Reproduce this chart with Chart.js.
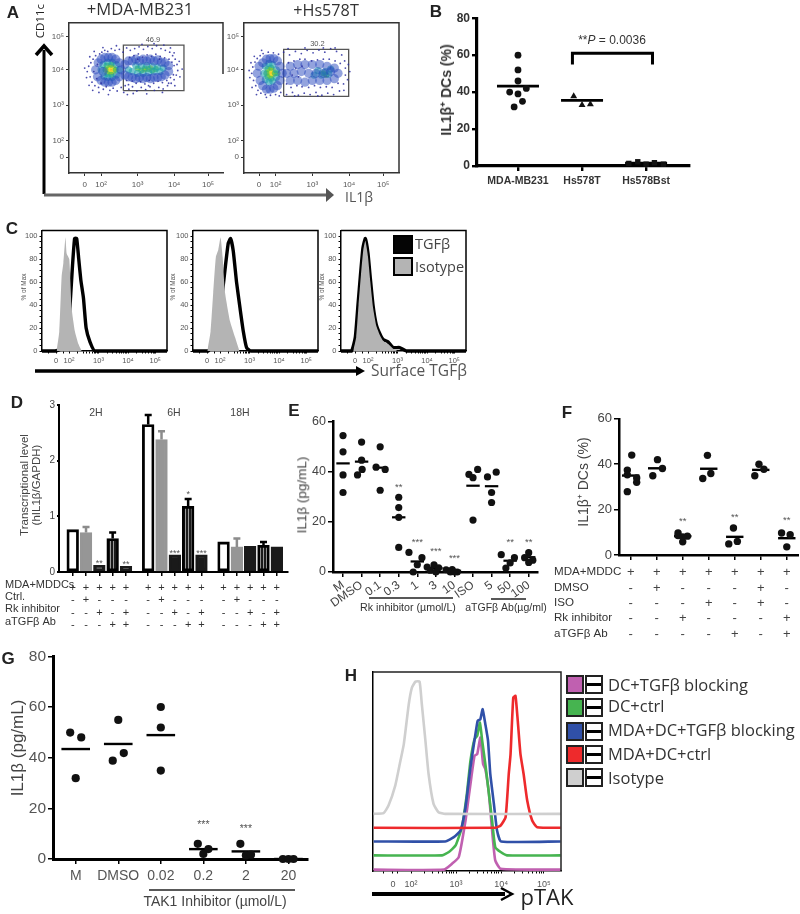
<!DOCTYPE html>
<html>
<head>
<meta charset="utf-8">
<title>Figure panels</title>
<script src="https://cdn.jsdelivr.net/npm/chart.js@4"></script>
<style>
  html, body { margin: 0; padding: 0; background: #fff; }
  #page { position: relative; width: 800px; height: 914px; overflow: hidden; font-family: "Liberation Sans", Arial, sans-serif; filter: blur(0.4px); }
  #page canvas { position: absolute; }
  #page canvas.flow { filter: blur(0.7px); }
  .t { position: absolute; white-space: nowrap; line-height: 1; }
  svg { position: absolute; left: 0; top: 0; }
</style>
</head>
<body>
<div id="page">
<svg width="800" height="914">
  <path d="M44 194V50" stroke="#000" stroke-width="3" fill="none"/>
  <path d="M36 55L44 46L52 55" stroke="#000" stroke-width="3.5" fill="none"/>
  <path d="M44 195H330" stroke="#666" stroke-width="3" fill="none"/>
  <path d="M326 188L334 195L326 202Z" fill="#555"/>
  <path d="M35 371H358" stroke="#000" stroke-width="3.5" fill="none"/>
  <path d="M356 366L365 371L356 376Z" fill="#000"/>
  <path d="M372 894H505" stroke="#000" stroke-width="4" fill="none"/>
  <path d="M501 888L512 894L501 900" stroke="#000" stroke-width="2.5" fill="none"/>
  <path d="M369 598H453M491 599H526" stroke="#222" stroke-width="1.6" fill="none"/>
  <path d="M149 890H295" stroke="#222" stroke-width="1.6" fill="none"/>
</svg>
</div>
<script>
// panel A, flow plots: hand read clouds, in axis decades, one list per density colour
const flowTickValues = [1.55, 2, 3, 4, 4.93];
const flowTickLabels = ['0', '10²', '10³', '10⁴', '10⁵'];
const flowYValues = [4.94, 4, 3, 2, 1.53];
const flowYLabels = ['10⁵', '10⁴', '10³', '10²', '0'];

const aLeftOuter = [[1.62,3.95],[1.66,4.1],[1.7,3.8],[1.72,4.2],[1.75,3.65],[1.78,4.3],[1.8,3.95],[1.83,3.55],[1.85,4.4],[1.88,3.75],[1.9,4.15],[1.93,3.5],[1.96,4.45],[2.0,3.62],[2.02,4.5],[2.06,3.45],[2.1,4.55],[2.14,3.52],[2.18,4.52],[2.24,3.42],[2.28,4.6],[2.33,3.48],[2.38,4.55],[2.44,3.4],[2.5,4.58],[2.55,3.5],[2.6,4.5],[2.66,3.55],[2.7,4.62],[2.76,3.45],[2.8,4.55],[2.86,3.52],[2.92,4.6],[2.98,3.4],[3.04,4.65],[3.1,3.5],[3.16,4.58],[3.22,3.44],[3.28,4.66],[3.34,3.52],[3.4,4.6],[3.46,3.42],[3.52,4.68],[3.58,3.5],[3.64,4.6],[3.7,3.46],[3.76,4.55],[3.82,3.55],[3.88,4.5],[3.92,3.62],[3.96,4.4],[4.0,3.72],[4.03,4.3],[4.06,3.85],[4.08,4.15],[4.1,3.98],[2.7,3.7],[2.78,4.35],[2.85,3.68],[2.9,4.4],[2.96,3.62],[3.02,4.45],[3.08,3.66],[3.14,4.36],[3.2,3.6],[3.26,4.42],[3.32,3.7],[3.38,4.38],[3.44,3.62],[3.5,4.44],[3.56,3.68],[3.62,4.38],[3.68,3.64],[3.74,4.34],[3.8,3.7],[3.86,4.3],[3.9,3.78],[3.94,4.22],[3.98,3.86],[4.0,4.12],[2.75,3.58],[3.0,4.3],[3.3,3.55],[3.6,4.3],[3.85,3.62],[1.55,4.05],[1.6,3.78],[1.67,3.56],[1.69,4.37],[1.77,3.42],[1.81,4.52],[1.94,3.36],[2.05,4.63],[2.2,3.3],[2.42,4.68],[2.62,3.36],[2.88,3.33],[3.12,4.72],[3.25,3.32],[3.45,4.74],[3.68,3.36],[3.9,4.62],[4.02,3.55],[4.14,4.24],[4.16,3.8],[4.22,4.02],[4.0,4.48],[3.72,4.7],[2.72,3.3]];
const aLeftBody = [[1.85,4.0],[1.9,3.8],[1.92,4.2],[2.0,3.7],[2.0,4.3],[2.05,3.95],[2.1,3.65],[2.1,4.35],[2.2,3.65],[2.2,4.35],[2.3,3.65],[2.3,4.35],[2.4,3.7],[2.4,4.3],[2.5,3.8],[2.5,4.2],[2.55,4.0],[2.65,3.85],[2.65,4.15],[2.75,3.8],[2.75,4.25],[2.85,3.78],[2.85,4.25],[2.95,3.75],[2.95,4.3],[3.05,3.78],[3.05,4.25],[3.15,3.75],[3.15,4.3],[3.25,3.78],[3.25,4.25],[3.35,3.75],[3.35,4.3],[3.45,3.78],[3.45,4.25],[3.55,3.78],[3.55,4.28],[3.65,3.8],[3.65,4.22],[3.75,3.85],[3.75,4.2],[3.85,3.95],[3.85,4.12]];
const aLeftTeal = [[2.0,4.0],[2.05,4.15],[2.08,3.82],[2.18,3.78],[2.18,4.22],[2.3,3.78],[2.3,4.22],[2.42,3.85],[2.42,4.15],[2.5,4.0],[2.75,4.0],[2.85,3.95],[2.95,4.12],[3.0,3.9],[3.1,4.1],[3.15,3.9],[3.25,4.12],[3.3,3.92],[3.4,4.1],[3.45,3.95],[3.55,4.08],[3.62,3.95],[3.7,4.05]];
const aLeftGreen = [[2.12,4.0],[2.15,4.12],[2.17,3.88],[2.28,3.86],[2.28,4.14],[2.4,4.0],[3.0,4.04],[3.1,3.98],[3.2,4.04],[3.3,4.02],[3.4,3.98],[3.5,4.02]];
const aLeftYellow = [[2.18,4.0],[2.24,4.08],[2.24,3.92],[2.34,4.06],[2.34,3.94],[3.2,4.0],[3.35,4.05]];
const aLeftOrange = [[2.22,4.0],[2.3,4.08],[2.3,3.92],[2.38,4.0]];
const aLeftRed = [[2.26,4.02],[2.3,3.97],[2.34,4.0]];
const aLeftGate = [[2.61,3.41],[2.61,4.7],[4.27,4.7],[4.27,3.41],[2.61,3.41]];

const aRightOuter = [[1.35,3.9],[1.38,4.08],[1.4,3.7],[1.44,4.22],[1.46,3.55],[1.5,4.32],[1.52,3.42],[1.58,4.4],[1.6,3.34],[1.66,4.46],[1.72,3.3],[1.8,4.5],[1.86,3.28],[1.94,4.48],[2.0,3.3],[2.08,4.44],[2.14,3.36],[2.22,4.5],[2.3,3.3],[2.38,4.42],[2.46,3.36],[2.54,4.52],[2.62,3.28],[2.7,4.46],[2.78,3.34],[2.86,4.55],[2.94,3.3],[3.02,4.48],[3.1,3.36],[3.18,4.56],[3.26,3.28],[3.34,4.5],[3.42,3.34],[3.5,4.6],[3.58,3.3],[3.66,4.52],[3.74,3.4],[3.8,4.42],[3.85,3.6],[3.88,4.25],[3.9,3.85],[3.9,4.05],[2.3,3.6],[2.35,4.2],[2.42,3.5],[2.5,4.25],[2.58,3.55],[2.66,4.3],[2.72,3.52],[2.8,4.3],[2.9,3.5],[2.98,4.25],[3.06,3.55],[3.14,4.28],[3.22,3.5],[3.3,4.3],[3.38,3.52],[3.46,4.3],[3.54,3.5],[3.62,4.25],[3.7,3.62],[3.76,4.18],[2.45,3.85],[2.55,4.05],[2.62,3.8],[2.72,4.1],[1.28,3.98],[1.3,3.78],[1.33,4.2],[1.36,3.5],[1.42,4.38],[1.48,3.3],[1.62,4.55],[1.75,3.22],[2.1,3.26],[2.34,4.6],[2.52,3.26],[2.8,4.62],[3.15,3.26],[3.3,4.62],[3.62,4.62],[3.86,3.42],[3.96,3.72],[3.98,4.15],[4.02,3.95]];
const aRightBody = [[1.5,3.9],[1.55,4.1],[1.58,3.7],[1.65,4.2],[1.65,3.55],[1.75,4.3],[1.75,3.45],[1.85,4.32],[1.85,3.45],[1.95,4.32],[1.95,3.48],[2.05,4.25],[2.05,3.55],[2.12,4.1],[2.12,3.7],[2.18,3.9],[2.3,3.9],[2.4,4.1],[2.4,3.7],[2.5,3.9],[2.6,4.15],[2.6,3.7],[2.7,3.95],[2.8,4.15],[2.8,3.65],[2.9,3.9],[3.0,4.15],[3.0,3.7],[3.1,3.9],[3.2,4.15],[3.2,3.7],[3.3,3.9],[3.4,4.1],[3.4,3.7],[3.5,3.95],[3.6,4.05],[3.6,3.75],[3.7,3.9]];
const aRightTeal = [[1.68,3.9],[1.72,4.1],[1.72,3.72],[1.82,4.18],[1.82,3.65],[1.92,4.15],[1.92,3.68],[2.02,4.0],[2.02,3.78],[3.05,3.85],[3.15,3.98],[3.25,3.85],[3.35,3.95],[3.45,3.88],[3.5,4.02]];
const aRightGreen = [[1.75,3.9],[1.78,4.02],[1.78,3.8],[1.88,4.06],[1.88,3.75],[1.98,3.9],[2.05,3.9],[3.3,3.9],[3.38,3.85]];
const aRightYellow = [[1.8,3.92],[1.85,4.0],[1.85,3.82],[1.93,3.98],[1.93,3.85]];
const aRightOrange = [[1.84,3.92],[1.88,3.98],[1.88,3.86],[1.92,3.92]];
const aRightRed = [[1.86,3.92],[1.9,3.9]];
const aRightGate = [[2.22,3.25],[2.22,4.58],[3.99,4.58],[3.99,3.25],[2.22,3.25]];

// panel B
const bCats = ['MDA-MB231', 'Hs578T', 'Hs578Bst'];
const bCircles = [[0,60],[0,52],[0,46],[-0.13,40],[0.13,42],[0,39],[0.07,35],[-0.06,32]];
const bTriangles = [[0.87,37.7],[1,33],[1.13,33.4]];
const bSquares = [[1.73,1.4],[1.87,2.3],[2,1],[2.13,1.8],[2.27,1]];
const bMedians = [[0,43.2],[1,35.5],[2,1.6]];
const bBracket = [[0.85,55],[0.85,61],[2.1,61],[2.1,55]];

// panel C
const cTop1 = [[1.085,0],[1.53,0],[1.75,2],[1.86,8],[1.98,20],[2.06,50],[2.12,75],[2.19,98],[2.26,98],[2.33,80],[2.4,62],[2.49,46],[2.58,20],[2.71,8],[2.88,0],[5.32,0]];
const cIso1 = [[1.58,0],[1.67,17],[1.75,65],[1.81,77],[1.88,99],[1.92,85],[2.01,80],[2.09,37],[2.2,17],[2.32,6],[2.43,0]];
const cTop2 = [[1.085,0],[1.6,0],[1.77,8],[1.94,26],[2.06,46],[2.17,71],[2.28,94],[2.36,98],[2.45,87],[2.56,60],[2.68,37],[2.79,17],[2.9,3],[3.04,0],[5.32,0]];
const cIso2 = [[1.57,0],[1.68,17],[1.77,51],[1.86,82],[1.94,88],[2.02,99],[2.09,82],[2.17,51],[2.34,26],[2.51,12],[2.66,0]];
const cTop3 = [[1.085,0],[1.44,0],[1.57,12],[1.66,40],[1.75,68],[1.83,90],[1.91,98],[2,85],[2.08,63],[2.17,40],[2.28,23],[2.4,15],[2.51,10],[2.68,8],[2.85,3],[3.07,3],[3.3,0],[5.32,0]];
const cIso3 = [[1.5,0],[1.6,12],[1.68,40],[1.76,66],[1.84,88],[1.91,96],[2,82],[2.08,60],[2.17,38],[2.28,22],[2.4,14],[2.51,9],[2.68,6],[2.85,2],[3,0]];
const cYTicks = [100, 80, 60, 40, 20, 0];

// panel D
const dX = [0,1,2,3,4, 5.67,6.67,7.67,8.67,9.67, 11.33,12.33,13.33,14.33,15.33];
const dKind = ['open','grey','black','striped','black','open','grey','black','striped','black','open','grey','black','striped','black'];
const dValues = [0.76,0.71,0.12,0.6,0.1, 2.65,2.38,0.31,1.18,0.31, 0.54,0.45,0.46,0.48,0.45];
const dErrTop = [null,0.81,null,0.71,null, 2.82,2.53,null,1.31,null, null,0.6,null,0.54,null];
const dMDA = ['+','+','+','+','+','+','+','+','+','+','+','+','+','+','+'];
const dCtrl = ['-','+','-','-','-','-','+','-','-','-','-','+','-','-','-'];
const dRk = ['-','-','+','-','+','-','-','+','-','+','-','-','+','-','+'];
const dAb = ['-','-','-','+','+','-','-','-','+','+','-','-','-','+','+'];
const dStars = [[2,0.12,'**'],[4,0.1,'**'],[7.67,0.31,'***'],[8.67,1.36,'*'],[9.67,0.31,'***']];

// panel E
const eCats = ['M','DMSO','0.1','0.3','1','3','10','ISO','5','50','100'];
const ePoints = [[0,54.4],[0,47.9],[0,38.7],[0,31.7],[1,51.8],[1,44.6],[1.03,40.9],[0.78,38.7],[2,49.9],[1.78,41.8],[2.27,40.9],[2,32.6],[3,29.8],[3,25.7],[3,21.8],[3,9.8],[3.55,7.8],[4.25,5.7],[4,2.9],[3.78,0],[4.53,2],[4.9,2.9],[4.7,0.7],[5,0],[5.15,1.7],[5.55,0.9],[5.88,1],[5.78,0],[6.15,0],[6,0],[6.78,38.9],[7,37.6],[7.25,40.9],[7,20.7],[7.78,37.9],[8.25,39.8],[8,31.7],[8,27.7],[8.52,6.9],[9.23,5.7],[9,3.6],[8.77,1.6],[10,7.7],[9.78,5.7],[10.22,4.7],[10,3.8]];
const eMedians = [[0,43.3],[1,44],[2,41.6],[3,21.8],[4,4.2],[5,1.6],[6,0.5],[7,34.4],[8,34.2],[9,4.5],[10,5.9]];
const eStars = [[3,33.6,'**'],[4,11.6,'***'],[5,7.9,'***'],[6,5.1,'***'],[9,11.6,'**'],[10,11.6,'**']];

// panel F
const fPoints = [[0.04,44],[-0.13,37.4],[-0.13,35.3],[0.23,33.9],[0.23,32],[-0.13,27.9],[1.03,42],[0.85,34.9],[1.22,38.1],[1.82,9.7],[1.82,8.6],[2.18,8.3],[2,5.8],[2,8],[2.95,43.9],[2.77,33.7],[3.08,35.9],[3.95,11.9],[3.77,4.9],[4.1,6],[4.93,40],[4.77,34.9],[5.12,37.8],[5.8,9.7],[6.13,8.9],[6,3.6]];
const fMedians = [[0,35],[1,38.2],[2,8.3],[3,38],[4,8],[5,37.5],[6,7.4]];
const fMDA = ['+','+','+','+','+','+','+'];
const fDMSO = ['-','+','-','-','-','+','-'];
const fISO = ['-','-','-','+','-','+','-'];
const fRk = ['-','-','+','-','-','-','+'];
const fAb = ['-','-','-','-','+','-','+'];
const fStars = [[2,14.5,'**'],[4,16.4,'**'],[6,15,'**']];

// panel G
const gCats = ['M','DMSO','0.02','0.2','2','20'];
const gPoints = [[-0.13,49.9],[0.13,48],[0,31.9],[1,54.9],[0.87,38.8],[1.13,41.8],[2,60],[2,51.9],[2,34.9],[2.87,6],[3.12,3.9],[3,2],[3.87,6],[4,1.4],[4.12,1.7],[4.87,0],[5,0],[5.12,0]];
const gMedians = [[0,43.4],[1,45.4],[2,48.9],[3,3.9],[4,3],[5,0]];
const gStars = [[3,12.8,'***'],[4,11.5,'***']];

// panel H
const hIsotype = [[1.17,33.6],[1.39,34],[1.5,38.6],[1.65,50.6],[1.75,63.6],[1.84,75.6],[1.95,99.6],[2.02,109.6],[2.1,113.2],[2.19,113.2],[2.24,99.6],[2.32,77.6],[2.39,57.6],[2.5,39.6],[2.61,34.6],[2.76,33.6],[5.32,33.6]];
const hRed = [[1.17,25.2],[3.87,25.2],[3.99,26.6],[4.1,31.6],[4.17,57.6],[4.21,69.6],[4.27,103.6],[4.32,104.6],[4.37,89.6],[4.43,69.6],[4.5,57.6],[4.58,41.6],[4.69,29.6],[4.8,25.6],[5.32,25.2]];
const hBlue = [[1.17,17],[2.76,17],[2.95,19.6],[3.1,23.6],[3.21,37.6],[3.32,61.6],[3.43,81.6],[3.48,89.6],[3.54,90.6],[3.59,96.6],[3.65,87.6],[3.71,77.6],[3.76,57.6],[3.84,39.6],[3.91,23.6],[4,17],[5.32,17]];
const hGreen = [[1.17,8.6],[2.69,8.6],[2.84,10.6],[2.99,14.6],[3.13,25.6],[3.24,45.6],[3.32,65.6],[3.41,78.6],[3.47,80.6],[3.53,88.6],[3.58,77.6],[3.65,63.6],[3.73,45.6],[3.8,29.6],[3.87,13.6],[3.99,10.6],[4.13,8.6],[5.32,8.6]];
const hMagenta = [[1.17,0],[2.73,0],[2.91,3.6],[3.06,7.6],[3.21,29.6],[3.32,51.6],[3.41,68.6],[3.47,69.6],[3.54,79.6],[3.6,63.6],[3.65,60.6],[3.73,45.6],[3.8,23.6],[3.87,5.6],[3.99,0.6],[5.32,0]];
const hLegendNames = ['DC+TGFβ blocking','DC+ctrl','MDA+DC+TGFβ blocking','MDA+DC+ctrl','Isotype'];
const hLegendColors = ['#c060b0','#46b450','#3050a8','#ee2a2c','#cfcfcf'];

const page = document.getElementById('page');
const SANS = '"Liberation Sans", Arial, sans-serif';
const OPEN = '"Open Sans", sans-serif';

function txt(html, x, y, o) {
  o = o || {};
  const d = document.createElement('div');
  d.className = 't';
  d.innerHTML = html;
  d.style.left = x + 'px';
  d.style.top = y + 'px';
  d.style.fontSize = (o.size || 12) + 'px';
  d.style.fontFamily = o.font || SANS;
  d.style.color = o.color || '#333';
  if (o.bold) d.style.fontWeight = 'bold';
  const ax = o.left ? '0' : '-50%';
  d.style.transform = 'translate(' + ax + ',-50%)' + (o.rot ? ' rotate(' + o.rot + 'deg)' : '');
  page.appendChild(d);
}

function canvasFor(box, m) {
  const c = document.createElement('canvas');
  c.width = box[2] - box[0] + m.l + m.r;
  c.height = box[3] - box[1] + m.t + m.b;
  c.style.left = (box[0] - m.l) + 'px';
  c.style.top = (box[1] - m.t) + 'px';
  page.appendChild(c);
  return c;
}

// draws the extras that sit on the scales: frame, error bars, star notes
function extras(o) {
  return {
    id: 'extras',
    afterDatasetsDraw(chart) {
      const { ctx, chartArea: a, scales: { x, y } } = chart;
      ctx.save();
      if (o.frame) {
        ctx.strokeStyle = o.frame;
        ctx.lineWidth = o.frameWidth || 1.5;
        ctx.beginPath();
        ctx.moveTo(a.left, a.top);
        ctx.lineTo(a.right, a.top);
        ctx.lineTo(a.right, o.rightTo ? o.rightTo : a.bottom);
        ctx.stroke();
      }
      (o.errs || []).forEach(e => {
        const px = x.getPixelForValue(e.x);
        const top = y.getPixelForValue(e.top);
        ctx.strokeStyle = e.color;
        ctx.lineWidth = 2.5;
        ctx.beginPath();
        ctx.moveTo(px, y.getPixelForValue(e.base));
        ctx.lineTo(px, top);
        ctx.moveTo(px - 3.5, top);
        ctx.lineTo(px + 3.5, top);
        ctx.stroke();
      });
      (o.notes || []).forEach(n => {
        ctx.fillStyle = o.noteColor || '#555';
        ctx.font = (o.noteSize || 10) + 'px ' + SANS;
        ctx.textAlign = 'center';
        ctx.textBaseline = 'bottom';
        ctx.fillText(n[2], x.getPixelForValue(n[0]), y.getPixelForValue(n[1]) + (o.noteDy || 0));
      });
      ctx.restore();
    }
  };
}

function scaleX(o) {
  return {
    type: 'linear', min: o.min, max: o.max, offset: false,
    afterFit: s => { s.height = o.mb; },
    afterBuildTicks: s => { s.ticks = o.ticks.map(v => ({ value: v })); },
    border: { color: o.color || '#000', width: o.width || 2 },
    grid: { drawOnChartArea: false, offset: false, drawTicks: true, tickLength: o.tickLength || 4, color: o.color || '#000', lineWidth: o.tickWidth || 1.5 },
    ticks: {
      autoSkip: false, minRotation: o.rot || 0, maxRotation: o.rot || 0, padding: o.padding || 3,
      color: o.labelColor || '#444', font: o.font,
      callback: (v, i) => (o.labels[i] === undefined ? '' : o.labels[i])
    }
  };
}

function scaleY(o) {
  return {
    type: 'linear', min: o.min, max: o.max,
    afterFit: s => { s.width = o.ml; },
    afterBuildTicks: s => { s.ticks = o.ticks.map(v => ({ value: v })); },
    border: { color: o.color || '#000', width: o.width || 2 },
    grid: { drawOnChartArea: false, drawTicks: true, tickLength: o.tickLength || 4, color: o.color || '#000', lineWidth: o.tickWidth || 1.5 },
    ticks: {
      autoSkip: false, padding: o.padding || 2, color: o.labelColor || '#444', font: o.font,
      callback: (v, i) => (o.labels[i] === undefined ? '' : o.labels[i])
    }
  };
}

function baseOptions(m, x, y) {
  return {
    responsive: false, animation: false, devicePixelRatio: 1,
    layout: { autoPadding: false, padding: { top: m.t, right: m.r, left: 0, bottom: 0 } },
    plugins: { legend: { display: false }, tooltip: { enabled: false } },
    scales: { x: x, y: y }
  };
}

function toXY(list) { return list.map(p => ({ x: p[0], y: p[1] })); }

// dot plus median panels (B, E, F, G)
function dotPanel(o) {
  const m = o.m;
  const datasets = o.groups.map(g => ({
    type: 'scatter', data: toXY(g.data), clip: false, pointStyle: g.style || 'circle',
    pointRadius: g.r || o.r, pointBackgroundColor: '#111', pointBorderColor: '#111', pointBorderWidth: 0
  }));
  datasets.push({
    type: 'scatter', data: toXY(o.medians), clip: false, pointStyle: 'line', pointRotation: 0,
    pointRadius: o.medR, pointBorderColor: '#000', pointBorderWidth: o.medW || 2.2
  });
  if (o.bracket) {
    datasets.push({ type: 'line', data: toXY(o.bracket), borderColor: '#000', borderWidth: 3, pointRadius: 0, clip: false });
  }
  const opt = baseOptions(m,
    scaleX({ min: o.xMin, max: o.xMax, mb: m.b, ticks: o.xTicks, labels: o.xLabels, font: o.xFont, rot: o.rot, padding: o.xPad, labelColor: o.xColor, width: o.axisW || 2.5, tickLength: 5, tickWidth: o.tickW }),
    scaleY({ min: 0, max: o.yMax, ml: m.l, ticks: o.yTicks, labels: o.yTicks.map(String), font: o.yFont, padding: o.yPad, labelColor: o.yColor, width: o.axisW || 2.5, tickLength: 5, tickWidth: o.tickW }));
  new Chart(canvasFor(o.box, m), {
    type: 'scatter', data: { datasets: datasets }, options: opt,
    plugins: [extras({ notes: o.stars, noteSize: o.starSize, noteDy: o.starDy })]
  });
}

// panel A
function flowPlot(box, xMin, xMax, layers, gate, note, rightTo) {
  const m = { t: 4, r: 6, b: 24, l: 28 };
  const colors = [['rgba(44,46,160,.85)', 0.9], ['rgba(40,72,190,.5)', 4.6], ['rgba(30,160,175,.6)', 3.6], ['rgba(80,195,80,.75)', 3], ['rgba(235,220,50,.85)', 2.7], ['rgba(245,140,30,.9)', 2.5], ['rgba(232,45,30,1)', 2.4]];
  const datasets = layers.map((pts, i) => ({
    type: 'scatter', data: toXY(pts), pointRadius: colors[i][1], pointBackgroundColor: colors[i][0], pointBorderWidth: 0, clip: false
  }));
  datasets.push({ type: 'line', data: toXY(gate), borderColor: '#555', borderWidth: 1.3, pointRadius: 0 });
  const font = { size: 8, family: SANS };
  const opt = baseOptions(m,
    scaleX({ min: xMin, max: xMax, mb: m.b, ticks: flowTickValues, labels: flowTickLabels, font: font, color: '#333', width: 1.5, tickLength: 3, tickWidth: 1, padding: 4, labelColor: '#555' }),
    scaleY({ min: 1.08, max: 5.33, ml: m.l, ticks: flowYValues, labels: flowYLabels, font: font, color: '#333', width: 1.5, tickLength: 3, tickWidth: 1, padding: 2, labelColor: '#555' }));
  const c = canvasFor(box, m);
  c.className = 'flow';
  new Chart(c, {
    type: 'scatter', data: { datasets: datasets }, options: opt,
    plugins: [extras({ frame: '#333', rightTo: rightTo, notes: [note], noteSize: 7.5, noteColor: '#555' })]
  });
}

flowPlot([69, 20, 223, 173], 1.12, 5.34, [aLeftOuter, aLeftBody, aLeftTeal, aLeftGreen, aLeftYellow, aLeftOrange, aLeftRed], aLeftGate, [3.42, 4.74, '46.9'], 58);
flowPlot([244, 20, 399, 173], 1.14, 5.36, [aRightOuter, aRightBody, aRightTeal, aRightGreen, aRightYellow, aRightOrange, aRightRed], aRightGate, [3.14, 4.62, '30.2']);

// panel B
dotPanel({
  box: [477, 17, 689, 166], m: { t: 8, r: 8, b: 26, l: 28 },
  xMin: -0.64, xMax: 2.67, yMax: 80,
  xTicks: [0, 1, 2], xLabels: bCats, xFont: { size: 10.5, weight: 'bold', family: SANS }, xPad: 4, xColor: '#333',
  yTicks: [80, 60, 40, 20, 0], yFont: { size: 12, weight: 'bold', family: SANS }, yColor: '#333',
  groups: [{ data: bCircles }, { data: bTriangles, style: 'triangle', r: 4 }, { data: bSquares, style: 'rect', r: 3.8 }],
  medians: bMedians, bracket: bBracket, r: 3.4, medR: 21, medW: 2.8, axisW: 3.2, tickW: 2.4
});

// panel C
function histPlot(box, iso, top) {
  const m = { t: 3, r: 4, b: 20, l: 26 };
  const xMinor = [1.3, 1.8, 2.3, 2.48, 2.6, 2.7, 2.78, 2.85, 2.9, 2.95, 3.3, 3.48, 3.6, 3.7, 3.78, 3.85, 3.9, 3.95, 4.3, 4.48, 4.6, 4.7, 4.78, 4.85, 4.9];
  const yMinor = [5, 10, 15, 25, 30, 35, 45, 50, 55, 65, 70, 75, 85, 90, 95];
  const font = { size: 7.5, family: SANS };
  const opt = baseOptions(m,
    scaleX({ min: 1.085, max: 5.32, mb: m.b, ticks: [1.56, 2, 3, 4, 4.92].concat(xMinor), labels: flowTickLabels, font: font, tickLength: 2.5, tickWidth: 1, width: 1.5, padding: 3, labelColor: '#555' }),
    scaleY({ min: 0, max: 105, ml: m.l, ticks: cYTicks.concat(yMinor), labels: cYTicks.map(String), font: font, tickLength: 2.5, tickWidth: 1, width: 1.5, padding: 2, labelColor: '#555' }));
  new Chart(canvasFor(box, m), {
    type: 'line',
    data: { datasets: [
      { data: toXY(iso), borderWidth: 0, backgroundColor: '#b4b4b4', fill: 'origin', pointRadius: 0, tension: 0.15 },
      { data: toXY(top), borderColor: '#000', borderWidth: 3.4, fill: false, pointRadius: 0, tension: 0.15, clip: false }
    ] },
    options: opt,
    plugins: [extras({ frame: '#000' })]
  });
}
histPlot([42, 227, 167, 351], cIso1, cTop1);
histPlot([193, 227, 318, 351], cIso2, cTop2);
histPlot([341, 227, 466, 351], cIso3, cTop3);

// panel D
function barStripes() {
  const tile = document.createElement('canvas');
  tile.width = 3; tile.height = 3;
  const t = tile.getContext('2d');
  t.fillStyle = '#1a1a1a'; t.fillRect(0, 0, 3, 3);
  t.fillStyle = '#9a9a9a'; t.fillRect(1, 0, 1, 3);
  return t.createPattern(tile, 'repeat');
}
(function () {
  const m = { t: 5, r: 4, b: 58, l: 22 };
  const striped = barStripes();
  const fills = { open: '#fff', grey: '#969696', black: '#1a1a1a', striped: striped };
  const edges = { open: '#000', grey: '#969696', black: '#1a1a1a', striped: '#000' };
  const errColor = { open: '#000', grey: '#8c8c8c', black: '#000', striped: '#000' };
  const errs = [];
  dErrTop.forEach((t, i) => {
    if (t !== null) errs.push({ x: dX[i], top: t, base: dValues[i], color: errColor[dKind[i]] });
  });
  const signs = dX.map((v, i) => [dMDA[i], dCtrl[i], dRk[i], dAb[i]]);
  const opt = baseOptions(m,
    scaleX({ min: -1.03, max: 16.17, mb: m.b, ticks: dX, labels: signs, font: { size: 11, lineHeight: 1.11, family: SANS }, labelColor: '#333', tickLength: 0, tickWidth: 0, padding: 6, width: 2 }),
    scaleY({ min: 0, max: 3, ml: m.l, ticks: [3, 2, 1, 0], labels: ['3', '2', '1', '0'], font: { size: 10, family: SANS }, labelColor: '#444', tickLength: 2, tickWidth: 2, width: 2 }));
  new Chart(canvasFor([59, 402, 288, 572], m), {
    type: 'bar',
    data: { datasets: [{
      data: dValues.map((v, i) => ({ x: dX[i], y: v })),
      barThickness: 11.7, borderWidth: 2.8, borderSkipped: false,
      backgroundColor: dKind.map(k => fills[k]), borderColor: dKind.map(k => edges[k])
    }] },
    options: opt,
    plugins: [extras({ errs: errs, notes: dStars.map(s => [s[0], s[1], s[2]]), noteSize: 9, noteDy: 3 })]
  });
})();

// panel E
dotPanel({
  box: [333, 420, 538, 572], m: { t: 8, r: 8, b: 36, l: 24 },
  xMin: -0.54, xMax: 10.5, yMax: 60,
  xTicks: eCats.map((c, i) => i), xLabels: eCats, xFont: { size: 12, family: SANS }, rot: 35, xPad: 1,
  yTicks: [60, 40, 20, 0], yFont: { size: 12.5, family: SANS },
  groups: [{ data: ePoints }], medians: eMedians, r: 3.6, medR: 6.7, medW: 2.2,
  stars: eStars, starSize: 9.5, starDy: 4
});

// panel F
dotPanel({
  box: [619, 417, 799, 555], m: { t: 8, r: 0, b: 90, l: 30 },
  xMin: -0.45, xMax: 6.47, yMax: 60,
  xTicks: fMDA.map((c, i) => i), xLabels: fMDA.map((c, i) => [fMDA[i], fDMSO[i], fISO[i], fRk[i], fAb[i]]),
  xFont: { size: 13, lineHeight: 1.185, family: SANS }, xPad: 5,
  yTicks: [60, 40, 20, 0], yFont: { size: 13, family: SANS },
  groups: [{ data: fPoints }], medians: fMedians, r: 3.7, medR: 8.7, medW: 2.4,
  stars: fStars, starSize: 9.5, starDy: 4
});

// panel G
dotPanel({
  box: [53, 655, 308, 859], m: { t: 10, r: 6, b: 26, l: 40 },
  xMin: -0.534, xMax: 5.46, yMax: 80,
  xTicks: gCats.map((c, i) => i), xLabels: gCats, xFont: { size: 14, family: SANS }, xPad: 4, xColor: '#555',
  yTicks: [80, 60, 40, 20, 0], yFont: { size: 15.5, family: SANS }, yColor: '#555',
  groups: [{ data: gPoints }], medians: gMedians, r: 4.1, medR: 14.3, medW: 2.4, axisW: 3,
  stars: gStars, starSize: 10.5, starDy: 4
});

// panel H
(function () {
  const m = { t: 2, r: 2, b: 22, l: 2 };
  const curves = [[hIsotype, '#cfcfcf'], [hRed, '#ee2a2c'], [hBlue, '#3050a8'], [hGreen, '#46b450'], [hMagenta, '#c060b0']];
  const xMinor = [1.4, 1.7, 2.3, 2.48, 2.6, 2.7, 2.78, 2.85, 2.9, 2.95, 3.3, 3.48, 3.6, 3.7, 3.78, 3.85, 3.9, 3.95, 4.3, 4.48, 4.6, 4.7, 4.78, 4.85, 4.9];
  const opt = baseOptions(m,
    scaleX({ min: 1.156, max: 5.33, mb: m.b, ticks: [1.6, 2, 3, 4, 4.95].concat(xMinor), labels: flowTickLabels, font: { size: 9, family: SANS }, tickLength: 2.5, tickWidth: 1, width: 1.5, padding: 6, labelColor: '#555' }),
    { type: 'linear', min: -0.8, max: 119, display: true, afterFit: s => { s.width = m.l; }, border: { color: '#000', width: 1.5 }, grid: { display: false }, ticks: { display: false } });
  new Chart(canvasFor([373, 672, 561, 871], m), {
    type: 'line',
    data: { datasets: curves.map(c => ({ data: toXY(c[0]), borderColor: c[1], borderWidth: 2.6, pointRadius: 0, tension: 0.15, fill: false })) },
    options: opt,
    plugins: [extras({ frame: '#222' })]
  });
})();

// legends, boxes on the page
function box(x, y, w, h, bg, border, bw) {
  const d = document.createElement('div');
  d.style.cssText = 'position:absolute;box-sizing:border-box;left:' + x + 'px;top:' + y + 'px;width:' + w + 'px;height:' + h + 'px;background:' + bg + ';border:' + bw + 'px solid ' + border;
  page.appendChild(d);
}
box(393, 235, 20, 19, '#050505', '#000', 2);
box(393, 257, 20, 19, '#b4b4b4', '#000', 2.5);
txt('TGFβ', 415, 244, { left: true, size: 14.5, font: OPEN, color: '#444' });
txt('Isotype', 415, 267, { left: true, size: 14.5, font: OPEN, color: '#444' });

const hLegendY = [675, 698, 722, 745, 768];
const hTextY = [685, 706, 730, 754, 778];
hLegendNames.forEach((name, i) => {
  box(566, hLegendY[i], 18, 19, hLegendColors[i], '#222', 2);
  box(585, hLegendY[i], 18, 19, '#fff', '#222', 2);
  box(587, hLegendY[i] + 7.5, 14, 3.5, '#000', '#000', 0);
  txt(name, 608, hTextY[i], { left: true, size: 16.5, font: OPEN, color: '#333' });
});

// titles and labels
[['A', 13, 12], ['B', 436, 11], ['C', 12, 228], ['D', 17, 402], ['E', 294, 410], ['F', 567, 412], ['G', 8, 658], ['H', 351, 675]].forEach(p => {
  txt(p[0], p[1], p[2], { size: 17, bold: true, color: '#222' });
});
txt('+MDA-MB231', 140, 9, { size: 16.6, font: OPEN, color: '#333' });
txt('+Hs578T', 326, 10, { size: 16.2, font: OPEN, color: '#333' });
txt('CD11c', 40, 21, { size: 11.5, font: OPEN, color: '#222', rot: -90 });
txt('IL1β', 345, 197, { left: true, size: 14, font: OPEN, color: '#555' });
txt('<b>IL1β⁺ DCs (%)</b>', 446, 90, { size: 14, color: '#333', rot: -90 });
txt('**<i>P</i> = 0.0036', 612, 40, { size: 12, color: '#333' });
txt('Surface TGFβ', 371, 371, { left: true, size: 15.5, font: OPEN, color: '#555' });
['% of Max', '% of Max', '% of Max'].forEach((s, i) => {
  txt(s, [24, 173, 322][i], 287, { size: 6.5, rot: -90, color: '#555' });
});
txt('Transcriptional level', 25, 485, { size: 11.5, rot: -90, color: '#444' });
txt('(hIL1β/GAPDH)', 37, 485, { size: 11.5, rot: -90, color: '#444' });
txt('2H', 96, 412, { size: 10.5, color: '#444' });
txt('6H', 174, 412, { size: 10.5, color: '#444' });
txt('18H', 240, 412, { size: 10.5, color: '#444' });
['MDA+MDDCs', 'Ctrl.', 'Rk inhibitor', 'aTGFβ Ab'].forEach((s, i) => {
  txt(s, 5, [584, 596, 608, 621][i], { left: true, size: 11, color: '#333' });
});
txt('IL1β (pg/mL)', 302, 495, { size: 13.5, rot: -90, color: '#444' });
txt('Rk inhibitor (µmol/L)', 408, 607, { size: 10.7, color: '#333' });
txt('aTGFβ Ab(µg/ml)', 506, 607, { size: 10.5, color: '#333' });
txt('IL1β⁺ DCs (%)', 583, 482, { size: 14, rot: -90, color: '#444' });
['MDA+MDDC', 'DMSO', 'ISO', 'Rk inhibitor', 'aTGFβ Ab'].forEach((s, i) => {
  txt(s, 554, [571, 587, 602, 617, 633][i], { left: true, size: 11.6, color: '#333' });
});
txt('IL1β (pg/mL)', 17, 748, { size: 17, rot: -90, color: '#444' });
txt('TAK1 Inhibitor (µmol/L)', 215, 901, { size: 14, color: '#444' });
txt('pTAK', 547, 896, { size: 22, font: OPEN, color: '#222' });
</script>
</body>
</html>
